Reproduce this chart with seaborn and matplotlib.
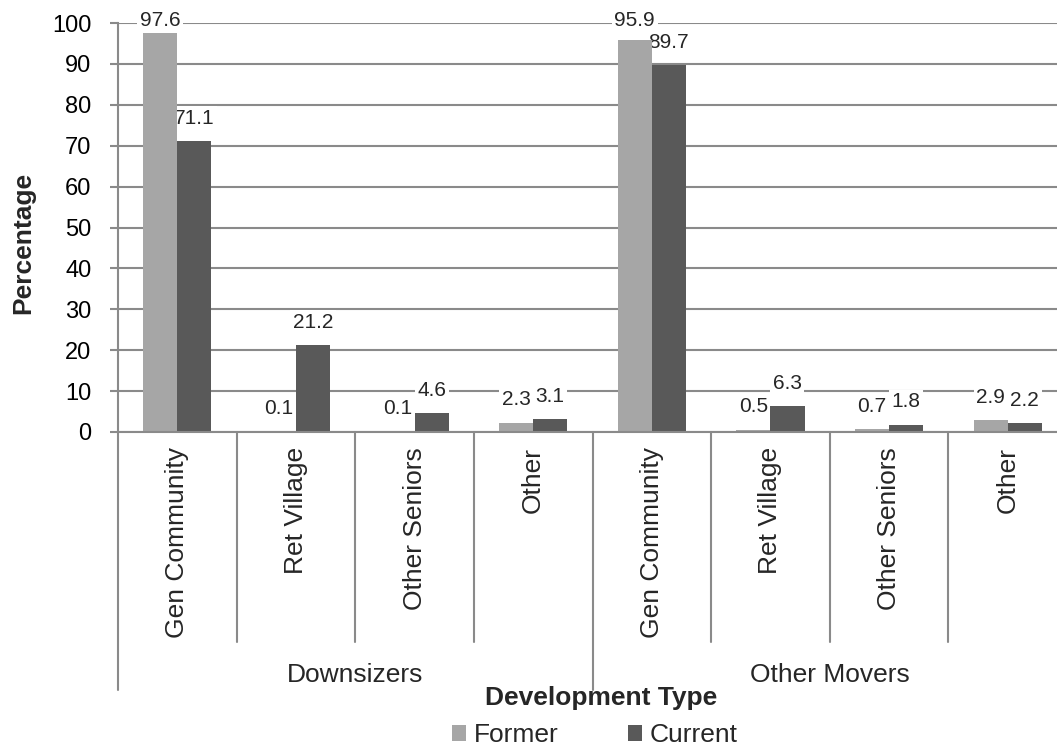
import matplotlib
matplotlib.use("Agg")
import matplotlib.pyplot as plt
from matplotlib.patches import Patch
from matplotlib.transforms import blended_transform_factory
import pandas as pd
import seaborn as sns

# Chart data
groups = ["Downsizers", "Other Movers"]
dev_types = ["Gen Community", "Ret Village", "Other Seniors", "Other"]
series = ["Former", "Current"]
former = [97.6, 0.1, 0.1, 2.3, 95.9, 0.5, 0.7, 2.9]
current = [71.1, 21.2, 4.6, 3.1, 89.7, 6.3, 1.8, 2.2]
y_ticks = list(range(0, 101, 10))

colors = {"Former": "#A6A6A6", "Current": "#595959"}
line_gray = "#8A8A8A"
font = "Liberation Sans"

sns.set_theme(style="white")
plt.rcParams["font.family"] = [font, "DejaVu Sans"]

# Long-form table: one row per bar
keys = [f"{g}|{d}" for g in groups for d in dev_types]
rows = []
for s, vals in zip(series, [former, current]):
    for k, v in zip(keys, vals):
        rows.append({"key": k, "series": s, "value": v})
df = pd.DataFrame(rows)

W, H = 1057, 745
DPI = 100
fig = plt.figure(figsize=(W / DPI, H / DPI), dpi=DPI)
left_px, right_px, top_px, bottom_px = 118, 1067, 23, 432
ax = fig.add_axes([left_px / W, 1 - bottom_px / H,
                   (right_px - left_px) / W, (bottom_px - top_px) / H])

sns.barplot(data=df, x="key", y="value", hue="series", order=keys,
            hue_order=series, palette=colors, width=0.575, saturation=1,
            legend=False, ax=ax, linewidth=0, errorbar=None)

ax.set_xlim(-0.5, len(keys) - 0.5)
ax.set_ylim(0, 100)
ax.set_yticks(y_ticks)
ax.set_yticklabels([str(t) for t in y_ticks], fontsize=17, family=font)
ax.set_xticks([])
ax.set_xlabel("")
ax.set_ylabel("")
ax.yaxis.grid(True, color=line_gray, linewidth=1.5)
ax.set_axisbelow(True)
ax.tick_params(axis="y", which="major", left=True, length=6, width=1.5,
               color=line_gray, pad=13, labelcolor="black")
for side in ["top", "right"]:
    ax.spines[side].set_visible(False)
ax.spines["left"].set_color(line_gray)
ax.spines["left"].set_linewidth(1.5)
ax.spines["bottom"].set_color(line_gray)
ax.spines["bottom"].set_linewidth(1.5)

# Value labels above each bar (former series first); labels are kept
# near the top edge of the figure and sit between gridlines and bars
px_per_unit = (bottom_px - top_px) / 100
for container, s in zip(ax.containers, series):
    for bar in container:
        h = bar.get_height()
        bar_top = bottom_px - h * px_per_unit
        off_px = min(23, bar_top - 21)
        ax.annotate(f"{h:.1f}", (bar.get_x() + bar.get_width() / 2, h),
                    xytext=(0, off_px * 72 / DPI), textcoords="offset points",
                    ha="center", va="center", fontsize=15, family=font,
                    bbox=dict(boxstyle="square,pad=0.12", fc="white", ec="none"),
                    annotation_clip=False, zorder=0.9)

# Two-level category axis beneath the plot
px = 1 / (bottom_px - top_px)  # axes fraction per pixel vertically
trans = blended_transform_factory(ax.transData, ax.transAxes)
inner_len = 210 * px
outer_len = 258 * px
n_per = len(dev_types)
for i, k in enumerate(keys):
    d = k.split("|")[1]
    ax.text(i, -15 * px, d, rotation=90, ha="center", va="top",
            fontsize=19, family=font, transform=trans, clip_on=False)
for i in range(len(keys) + 1):
    xb = i - 0.5
    length = outer_len if i % n_per == 0 else inner_len
    ax.plot([xb, xb], [0, -length], color=line_gray, lw=1.5,
            transform=trans, clip_on=False)
for gi, g in enumerate(groups):
    xc = gi * n_per + (n_per - 1) / 2
    ax.text(xc, -243 * px, g, ha="center", va="center", fontsize=19,
            family=font, transform=trans, clip_on=False)

# Axis titles
fig.text(23 / W, 1 - 243 / H, "Percentage", rotation=90, ha="center",
         va="center", fontsize=19, fontweight="bold", family=font)
fig.text(601 / W, 1 - 698 / H, "Development Type", ha="center",
         va="center", fontsize=19, fontweight="bold", family=font)

handles = [Patch(facecolor=colors[s], edgecolor="none", label=s) for s in series]
fig.legend(handles=handles, loc="center", bbox_to_anchor=(595 / W, 1 - 735 / H),
           ncol=2, frameon=False, prop={"family": font, "size": 19},
           handlelength=0.55, handleheight=0.55, handletextpad=0.3,
           columnspacing=2.6, borderpad=0, borderaxespad=0)

fig.savefig("out.png", dpi=DPI, facecolor="white")
